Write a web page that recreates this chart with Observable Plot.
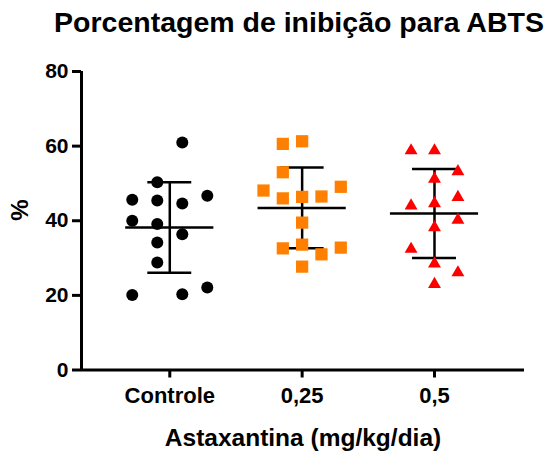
<!DOCTYPE html>
<html><head><meta charset="utf-8">
<script src="https://cdn.jsdelivr.net/npm/d3@7"></script>
<script src="https://cdn.jsdelivr.net/npm/@observablehq/plot@0.6"></script>
<style>
body{margin:0;background:#fff;font-family:"Liberation Sans",Arial,sans-serif;}
#title{width:548px;height:40px;box-sizing:border-box;padding-left:50px;text-align:center;font-weight:bold;font-size:28.5px;line-height:44px;color:#000;white-space:nowrap;}
</style></head><body>
<div id="title">Porcentagem de inibição para ABTS</div>
<div id="chart"></div>
<script>
const categories = ["Controle", "0,25", "0,5"];
const yTicks = [0, 20, 40, 60, 80];
const controle = [61.0, 50.3, 45.6, 45.4, 44.6, 46.7, 40.0, 39.1, 36.4, 34.2, 28.8, 20.1, 20.3, 22.1];
const controleSlot = [0.5, -0.5, -1.5, -0.5, 0.5, 1.5, -1.5, -0.5, 0.5, -0.5, -0.5, -1.5, 0.5, 1.5];
const dose025 = [60.6, 61.3, 53.0, 48.1, 46.0, 46.4, 46.5, 49.1, 39.5, 32.6, 33.6, 31.0, 32.8, 27.7];
const dose025Slot = [-1, 0, -1, -2, -1, 0, 1, 2, 0, -1, 0, 1, 2, 0];
const dose05 = [58.8, 58.8, 53.2, 51.2, 46.3, 44.0, 44.6, 40.2, 38.2, 32.4, 28.5, 26.1, 23.0];
const dose05Slot = [-1, 0, 1, 0, 1, -1, 0, 1, 0, -1, 0, 1, 0];
const slotWidth = [0.189, 0.146, 0.177];

const groups = [controle, dose025, dose05];
const slots = [controleSlot, dose025Slot, dose05Slot];
const rows = groups.flatMap((vals, g) => vals.map((v, k) => ({g, value: v, x: g + slots[g][k] * slotWidth[g]})));
const stats = groups.map((vals, g) => ({g, mean: d3.mean(vals), sd: d3.deviation(vals)}));

const xDomain = [-0.667, 2.68];

const chart = Plot.plot({
  width: 548,
  height: 419,
  marginTop: 31,
  marginBottom: 89.5,
  marginLeft: 81,
  marginRight: 24,
  style: {fontFamily: "Liberation Sans, Arial, sans-serif", color: "#000", background: "#fff"},
  x: {type: "linear", domain: xDomain},
  y: {domain: [0, 80]},
  marks: [
    Plot.ruleY([0], {stroke: "#000", strokeWidth: 3}),
    Plot.ruleX([xDomain[0]], {y1: 0, y2: 80, stroke: "#000", strokeWidth: 3}),
    Plot.axisY({ticks: yTicks, tickSize: 9, tickPadding: 4, strokeWidth: 3, label: null, fontSize: 21, fontWeight: "bold"}),
    Plot.axisX({ticks: [0, 1, 2], tickFormat: i => categories[i], tickSize: 8, tickPadding: 9, strokeWidth: 3, label: null, fontSize: 22, fontWeight: "bold"}),
    Plot.ruleY(stats, {y: "mean", x1: d => d.g - 0.333, x2: d => d.g + 0.333, stroke: "#000", strokeWidth: 2.5}),
    Plot.ruleX(stats, {x: "g", y1: d => d.mean - d.sd, y2: d => d.mean + d.sd, stroke: "#000", strokeWidth: 2.5}),
    Plot.ruleY(stats, {y: d => d.mean + d.sd, x1: d => d.g - 0.166, x2: d => d.g + 0.166, stroke: "#000", strokeWidth: 2.5}),
    Plot.ruleY(stats, {y: d => d.mean - d.sd, x1: d => d.g - 0.166, x2: d => d.g + 0.166, stroke: "#000", strokeWidth: 2.5}),
    Plot.dot(rows.filter(d => d.g === 0), {x: "x", y: "value", r: 6, fill: "#000", symbol: "circle"}),
    Plot.dot(rows.filter(d => d.g === 1), {x: "x", y: "value", r: 6.9, fill: "#FF8000", symbol: "square"}),
    Plot.dot(rows.filter(d => d.g === 2), {x: "x", y: "value", r: 4.8, fill: "#FF0000", symbol: "triangle"}),
    Plot.text(["%"], {text: d => d, frameAnchor: "left", dx: -61, rotate: -90, fontSize: 24, fontWeight: "bold"}),
    Plot.text(["Astaxantina (mg/kg/dia)"], {text: d => d, frameAnchor: "bottom", dy: 76, fontSize: 24.5, fontWeight: "bold"})
  ]
});
document.getElementById("chart").appendChild(chart);
</script>
</body></html>
